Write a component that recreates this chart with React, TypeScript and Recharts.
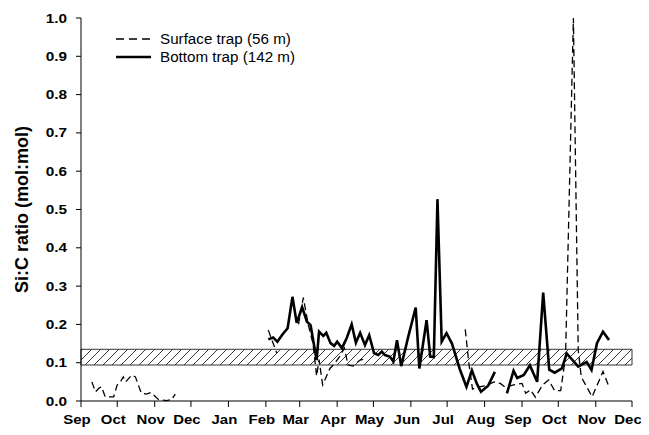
import React from "react";
import {
  LineChart,
  Line,
  XAxis,
  YAxis,
  ReferenceArea,
  Legend,
} from "recharts";

// days counted from 1 Sep of the first year
const monthLabels = ["Sep", "Oct", "Nov", "Dec", "Jan", "Feb", "Mar", "Apr", "May", "Jun", "Jul", "Aug", "Sep", "Oct", "Nov", "Dec"];
const monthStartDay = [0, 30, 61, 91, 122, 153, 181, 212, 242, 273, 303, 334, 365, 395, 426, 456];
const yTicks = [0, 0.1, 0.2, 0.3, 0.4, 0.5, 0.6, 0.7, 0.8, 0.9, 1.0];

// range of Si:C for diatoms (hatched band)
const bandLow = 0.094;
const bandHigh = 0.135;

// surface trap (56 m), null = gap in record
const surfaceDay = [
  9, 12, 15, 17, 20, 27, 30, 33, 35, 37, 42, 45, 50, 54, 58, 64, 71, 75, 78, 80,
  155, 162, 170,
  180, 184, 188, 192, 195, 197, 200, 206, 210, 214, 218, 221, 225, 231, 236, 280,
  318, 321, 324, 328, 335, 342, 347, 351, 358, 365, 368, 372, 376, 382, 387, 392, 397, 401, 407.5, 411.5, 414, 423, 432, 437,
];
const surfaceRatio = [
  0.05, 0.024, 0.034, 0.037, 0.011, 0.011, 0.042, 0.052, 0.063, 0.05, 0.068, 0.063, 0.02, 0.018, 0.022, 0.004, 0.001, 0.004, 0.018, null,
  0.185, 0.125, null,
  0.2, 0.27, 0.2, 0.15, 0.065, 0.108, 0.042, 0.085, 0.098, 0.116, 0.138, 0.094, 0.091, 0.107, 0.11, null,
  0.187, 0.098, 0.031, 0.036, 0.04, 0.05, 0.046, 0.036, 0.042, 0.046, 0.02, 0.029, 0.01, 0.042, 0.055, 0.027, 0.027, 0.116, 1.0, 0.133, 0.063, 0.011, 0.077, 0.037,
];

// bottom trap (142 m)
const bottomDay = [
  155, 159, 162.5, 167, 171, 175, 178.5, 183, 187, 190, 195, 197, 200.5, 203, 206.5, 209.5, 212, 216, 220, 224,
  227.5, 231, 235, 238.5, 242.5, 246, 249, 251.5, 255.5, 258.5, 261.5, 265, 271, 277, 280, 286, 289, 292, 295, 298.5,
  302.5, 307, 313.5, 319, 323.5, 327.5, 331, 337, 342.5, 347,
  352.5, 358, 361, 366.5, 371.5, 377.5, 382.5, 387.5, 392, 398, 402, 411.5, 418.5, 422.5, 427, 432, 437,
];
const bottomRatio = [
  0.161, 0.166, 0.155, 0.175, 0.19, 0.272, 0.204, 0.245, 0.207, 0.198, 0.107, 0.181, 0.17, 0.178, 0.151, 0.144, 0.155, 0.138, 0.165, 0.2,
  0.152, 0.178, 0.146, 0.172, 0.125, 0.12, 0.129, 0.12, 0.116, 0.103, 0.159, 0.091, 0.17, 0.244, 0.085, 0.211, 0.116, 0.115, 0.527, 0.155,
  0.177, 0.15, 0.083, 0.037, 0.08, 0.046, 0.024, 0.04, 0.076, null,
  0.02, 0.079, 0.06, 0.068, 0.093, 0.05, 0.283, 0.082, 0.074, 0.085, 0.124, 0.09, 0.102, 0.081, 0.151, 0.181, 0.159,
];

const surfaceData = surfaceDay.map((day, i) => ({ day, ratio: surfaceRatio[i] }));
const bottomData = bottomDay.map((day, i) => ({ day, ratio: bottomRatio[i] }));

const FONT = "'Liberation Sans', Arial, sans-serif";

// the original figure is a bit stretched sideways, so text gets a small scaleX
function MonthTick(props: any) {
  const { x, y, index } = props;
  return (
    <text
      transform={`translate(${x - 4},${y + 15}) scale(1.15,1)`}
      textAnchor="middle"
      fontFamily={FONT}
      fontWeight="bold"
      fontSize={13}
      fill="#000"
    >
      {monthLabels[index]}
    </text>
  );
}

function RatioTick(props: any) {
  const { x, y, payload } = props;
  return (
    <text
      transform={`translate(${x - 1},${y + 4.5}) scale(1.18,1)`}
      textAnchor="end"
      fontFamily={FONT}
      fontWeight="bold"
      fontSize={13}
      fill="#000"
    >
      {Number(payload.value).toFixed(1)}
    </text>
  );
}

function TrapLegend() {
  const row = { display: "flex", alignItems: "center", height: 18 } as const;
  const txt = {
    fontFamily: FONT,
    fontSize: 14,
    color: "#000",
    marginLeft: 9,
    display: "inline-block",
    transform: "scaleX(1.085)",
    transformOrigin: "left center",
    whiteSpace: "nowrap",
  } as const;
  return (
    <div>
      <div style={row}>
        <svg width={35} height={6}>
          <line x1={0} y1={3} x2={35} y2={3} stroke="#000" strokeWidth={1.3} strokeDasharray="8 5" />
        </svg>
        <span style={txt}>Surface trap (56 m)</span>
      </div>
      <div style={row}>
        <svg width={35} height={6}>
          <line x1={0} y1={3} x2={35} y2={3} stroke="#000" strokeWidth={2.6} />
        </svg>
        <span style={txt}>Bottom trap (142 m)</span>
      </div>
    </div>
  );
}

export default function App() {
  return (
    <div style={{ position: "relative", width: 649, height: 435, margin: -8, background: "#fff" }}>
      <svg width={0} height={0} style={{ position: "absolute" }}>
        <defs>
          <pattern id="hatch" patternUnits="userSpaceOnUse" width={9} height={9}>
            <rect width={9} height={9} fill="#fff" />
            <path d="M-1,10 L10,-1 M-1,1 L1,-1 M8,10 L10,8" stroke="#222" strokeWidth={0.9} />
          </pattern>
        </defs>
      </svg>
      <LineChart width={649} height={435} margin={{ top: 18, right: 17, bottom: 0, left: 0 }}>
        <XAxis
          type="number"
          dataKey="day"
          domain={[0, 456]}
          ticks={monthStartDay}
          interval={0}
          allowDataOverflow
          height={34}
          tickSize={6}
          tick={<MonthTick />}
          stroke="#000"
        />
        <YAxis
          type="number"
          domain={[0, 1]}
          ticks={yTicks}
          interval={0}
          width={81}
          tickSize={5}
          tickMargin={8}
          tick={<RatioTick />}
          stroke="#000"
          label={{
            value: "Si:C ratio (mol:mol)",
            angle: -90,
            position: "insideLeft",
            offset: 22,
            style: { fontFamily: FONT, fontWeight: "bold", fontSize: 18, fill: "#000", textAnchor: "middle" },
          }}
        />
        <ReferenceArea
          x1={0}
          x2={456}
          y1={bandLow}
          y2={bandHigh}
          fill="url(#hatch)"
          fillOpacity={1}
          stroke="#333"
          strokeWidth={1}
          ifOverflow="visible"
        />
        <Line
          data={surfaceData}
          dataKey="ratio"
          name="Surface trap (56 m)"
          stroke="#000"
          strokeWidth={1.3}
          strokeDasharray="7 4"
          dot={false}
          type="linear"
          isAnimationActive={false}
        />
        <Line
          data={bottomData}
          dataKey="ratio"
          name="Bottom trap (142 m)"
          stroke="#000"
          strokeWidth={2.6}
          dot={false}
          type="linear"
          isAnimationActive={false}
        />
        <Legend
          layout="vertical"
          align="center"
          verticalAlign="middle"
          wrapperStyle={{ top: 30, left: 116, width: 220 }}
          content={<TrapLegend />}
        />
      </LineChart>
    </div>
  );
}
